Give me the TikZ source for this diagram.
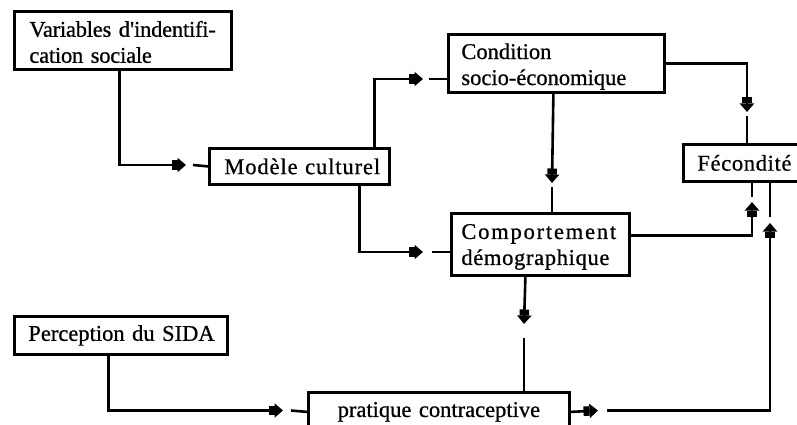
\documentclass[tikz,border=0pt]{standalone}
\usepackage{fontspec}
\setmainfont{Liberation Serif}[FakeBold=0.7]
\usetikzlibrary{arrows.meta}
\begin{document}
\begin{tikzpicture}[x=1pt,y=-1pt,
  box/.style={draw, line width=2.8pt, inner ysep=0pt, align=left,
    font=\fontsize{22.5}{26}\selectfont\addfontfeatures{FakeBold=0.7}, anchor=north west},
  conn/.style={line width=2.6pt},
  arr/.style={conn, -{Rectangle[length=6pt,width=9.5pt,sep=0pt]Triangle[length=8.5pt,width=14pt,sep=0pt]}}]
\clip (0,0) rectangle (797,425);
\fill[white] (0,0) rectangle (797,425);
% boxes
\node[box, minimum width=217pt, minimum height=58pt, inner xsep=15pt, text width=187pt] (var) at (13,10)
  {\addfontfeatures{LetterSpace=-1}\mbox{\rule{0pt}{19pt}Variables d\textquotesingle indentifi-}\\\mbox{cation sociale}};
\node[box, minimum width=180pt, minimum height=36pt, inner xsep=15pt, text width=150pt] (mod) at (208,147)
  {\mbox{\addfontfeatures{LetterSpace=4}Modèle culturel}};
\node[box, minimum width=216pt, minimum height=58pt, inner xsep=13pt, text width=190pt] (cond) at (447,33)
  {\mbox{\rule{0pt}{22pt}Condition}\\\mbox{socio-économique}};
\node[box, minimum width=123pt, minimum height=37pt, inner xsep=14pt, text width=95pt] (fec) at (682,143)
  {\mbox{\addfontfeatures{LetterSpace=3}Fécondité}};
\node[box, minimum width=178pt, minimum height=62pt, inner xsep=10pt, text width=158pt] (comp) at (450,212)
  {\mbox{\rule{0pt}{20pt}\addfontfeatures{LetterSpace=8}Comportement}\\\mbox{\addfontfeatures{LetterSpace=3}démographique}};
\node[box, minimum width=213pt, minimum height=38pt, inner xsep=14pt, text width=185pt] (perc) at (13,315)
  {\mbox{Perception du SIDA}};
\node[box, minimum width=261pt, minimum height=39pt, inner xsep=10pt, text width=241pt, align=center] (prat) at (307,391)
  {\mbox{pratique contraceptive}};
% arrow tips and stub starts
\coordinate (t1) at (186,165);  \coordinate (s1) at (193,165);
\coordinate (t2) at (423,79);   \coordinate (s2) at (429,79);
\coordinate (t3) at (423,252);  \coordinate (s3) at (432,252);
\coordinate (t4) at (552,183);  \coordinate (s4) at (552,187);
\coordinate (t5) at (747,112);  \coordinate (s5) at (747,116);
\coordinate (t6) at (752,202);  \coordinate (s6) at (752,197);
\coordinate (t7) at (598,410.5);\coordinate (s7) at (607,410.5);
\coordinate (t8) at (770,223);  \coordinate (s8) at (770,217);
\coordinate (t9) at (524,324);  \coordinate (s9) at (524,338);
\coordinate (t10) at (283,410.5); \coordinate (s10) at (291,410.5);
% connectors
\draw[arr] ([xshift=-3.5pt]var.south) |- (t1);
\draw[conn] (s1) -- (mod.west);
\draw[arr] ([xshift=75pt]mod.north) |- (t2);
\draw[conn] (s2) -- (s2 -| cond.west);
\draw[arr] ([xshift=60pt]mod.south) |- (t3);
\draw[conn] (s3) -- (s3 -| comp.west);
\draw[arr] ([xshift=-3pt]cond.south) -- (t4);
\draw[conn] (s4) -- (s4 |- comp.north);
\draw[arr] (cond.east) -| (t5);
\draw[conn] (s5) -- (s5 |- fec.north);
\draw[arr] ([yshift=9pt]comp.east) -| (t6);
\draw[conn] (s6) -- (s6 |- fec.south);
\draw[arr] (prat.east) -- (t7);
\draw[arr] (s7) -| (t8);
\draw[conn] (s8) -- (s8 |- fec.south);
\draw[arr] ([xshift=-15pt]comp.south) -- (t9);
\draw[conn] (s9) -- (s9 |- prat.north);
\draw[arr] ([xshift=-12.5pt]perc.south) |- (t10);
\draw[conn] (s10) -- (prat.west);
\end{tikzpicture}
\end{document}
